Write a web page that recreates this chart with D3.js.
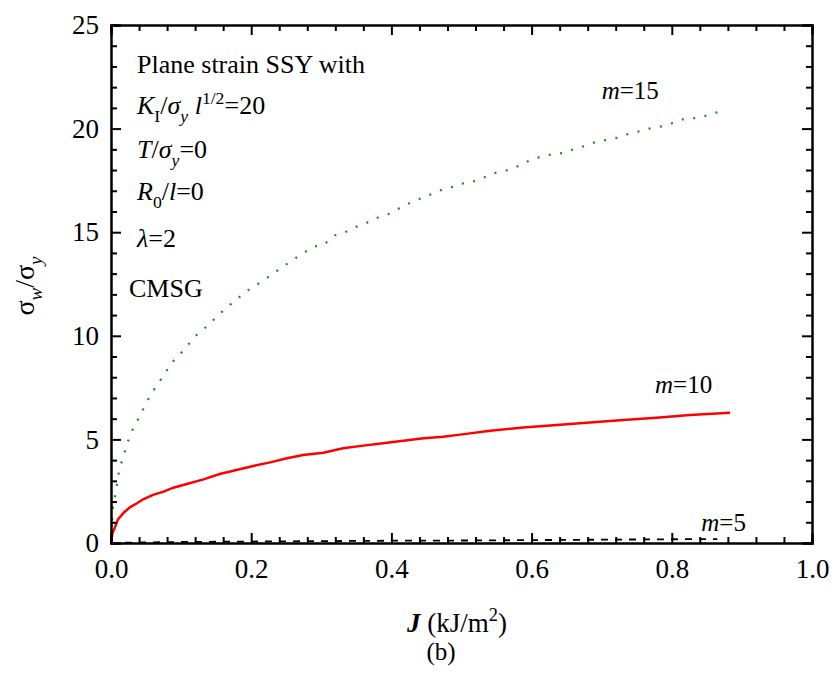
<!DOCTYPE html>
<html>
<head>
<meta charset="utf-8">
<script src="https://cdn.jsdelivr.net/npm/d3@7"></script>
<style>
    body { margin: 0; background: #fff; }
    text { font-family: "Liberation Serif", "Times New Roman", serif; fill: #000; }
</style>
</head>
<body>
<div class="vis-chart"></div>
<script>
// J (kJ/m^2) and sigma_w/sigma_y
const j15 = [0, 0.001, 0.002, 0.003, 0.006, 0.009, 0.011, 0.015, 0.020, 0.025, 0.031, 0.039, 0.047, 0.055, 0.065, 0.076, 0.085, 0.096, 0.109, 0.123, 0.139, 0.153, 0.167, 0.182, 0.196, 0.211, 0.227, 0.248, 0.270, 0.289, 0.304, 0.318, 0.334, 0.349, 0.365, 0.380, 0.396, 0.411, 0.427, 0.442, 0.457, 0.473, 0.489, 0.505, 0.520, 0.536, 0.551, 0.567, 0.582, 0.598, 0.613, 0.629, 0.644, 0.660, 0.676, 0.691, 0.707, 0.723, 0.738, 0.754, 0.769, 0.785, 0.800, 0.816, 0.832, 0.847, 0.863, 0.878];
const s15 = [0, 0.79, 1.35, 1.83, 2.3, 2.9, 3.4, 3.9, 4.45, 4.97, 5.49, 6.0, 6.53, 7.06, 7.6, 8.12, 8.64, 9.02, 9.52, 10.07, 10.52, 11.0, 11.42, 11.84, 12.21, 12.53, 12.9, 13.4, 13.9, 14.3, 14.4, 14.83, 15.0, 15.25, 15.46, 15.7, 15.88, 16.15, 16.42, 16.63, 16.83, 17.07, 17.2, 17.39, 17.47, 17.7, 17.9, 18.0, 18.21, 18.48, 18.64, 18.76, 18.82, 19.0, 19.16, 19.35, 19.45, 19.56, 19.74, 19.87, 20.01, 20.11, 20.26, 20.45, 20.5, 20.61, 20.77, 20.85];

const j10 = [0, 0.002, 0.006, 0.010, 0.018, 0.027, 0.037, 0.046, 0.060, 0.075, 0.089, 0.108, 0.132, 0.155, 0.179, 0.203, 0.227, 0.251, 0.274, 0.303, 0.331, 0.360, 0.388, 0.417, 0.446, 0.474, 0.498, 0.541, 0.588, 0.636, 0.683, 0.731, 0.778, 0.826, 0.883];
const s10 = [0, 0.47, 0.79, 1.14, 1.46, 1.72, 1.92, 2.11, 2.32, 2.48, 2.67, 2.85, 3.07, 3.33, 3.52, 3.72, 3.89, 4.09, 4.25, 4.36, 4.57, 4.70, 4.81, 4.94, 5.05, 5.13, 5.23, 5.42, 5.58, 5.69, 5.82, 5.94, 6.05, 6.18, 6.29];

const j5 = [0, 0.05, 0.1, 0.2, 0.3, 0.4, 0.5, 0.6, 0.7, 0.8, 0.865];
const s5 = [0, 0.03, 0.05, 0.07, 0.09, 0.11, 0.12, 0.14, 0.16, 0.18, 0.19];

const xTicks = [0, 0.2, 0.4, 0.6, 0.8, 1.0];
const yTicks = [0, 5, 10, 15, 20, 25];

const margin = { top: 25, right: 22, bottom: 141, left: 111 };
const W = 834, H = 684;
const width = W - margin.left - margin.right;
const height = H - margin.top - margin.bottom;
const fs = 27;

let svg = d3.select('.vis-chart')
    .append("svg")
    .attr("width", W)
    .attr("height", H)
    .append("g")
    .attr("transform", "translate(" + margin.left + "," + margin.top + ")");

let x = d3.scaleLinear().domain([0, 1]).range([0, width]);
let y = d3.scaleLinear().domain([0, 25]).range([height, 0]);

const xMinor = d3.range(0, 1.0001, 0.04).filter(v => !xTicks.some(t => Math.abs(t - v) < 1e-6));
const yMinor = d3.range(0, 25.001, 1).filter(v => v % 5 !== 0);

// text with sub/superscripts: parts = [text, italic, pos, bold] pos 1 = sub, -1 = sup
function rich(sel, px, py, parts, size) {
    const t = sel.append("text").attr("x", px).attr("y", py).style("font-size", size + "px");
    let shift = 0;
    parts.forEach(p => {
        const pos = p[2] || 0;
        const target = pos === 1 ? size * 0.3 : pos === -1 ? -size * 0.4 : 0;
        t.append("tspan")
            .attr("dy", target - shift)
            .style("font-style", p[1] ? "italic" : "normal")
            .style("font-weight", p[3] ? "bold" : "normal")
            .style("font-size", (pos ? size * 0.68 : size) + "px")
            .text(p[0]);
        shift = target;
    });
    return t;
}

// Curves
const line = d3.line().x(d => x(d[0])).y(d => y(d[1]));

svg.append("path")
    .datum(j5.map((v, i) => [v, s5[i]]))
    .attr("d", line)
    .attr("fill", "none")
    .attr("stroke", "#000")
    .attr("stroke-width", 1.8)
    .attr("stroke-dasharray", "7,7");

svg.append("path")
    .datum(j10.map((v, i) => [v, s10[i]]))
    .attr("d", line)
    .attr("fill", "none")
    .attr("stroke", "#ff0000")
    .attr("stroke-width", 2.5);

svg.append("path")
    .datum(j15.map((v, i) => [v, s15[i]]))
    .attr("d", line)
    .attr("fill", "none")
    .attr("stroke", "#1a8c1a")
    .attr("stroke-width", 2.2)
    .attr("stroke-dasharray", "2,9.5");

// Axes (ticks inward, mirrored)
function styleAxis(g) {
    g.attr("font-family", null);
    g.select(".domain").attr("stroke-width", 2);
    g.selectAll(".tick line").attr("stroke-width", 2);
    g.selectAll("text").style("font-size", fs + "px").attr("fill", "#000");
}

svg.append("g")
    .attr("transform", "translate(0," + height + ")")
    .call(d3.axisBottom(x).tickValues(xTicks).tickFormat(d3.format(".1f")).tickSize(-10).tickPadding(16))
    .call(styleAxis);
svg.append("g")
    .attr("transform", "translate(0," + height + ")")
    .call(d3.axisBottom(x).tickValues(xMinor).tickFormat("").tickSize(-6))
    .call(styleAxis);
svg.append("g")
    .call(d3.axisTop(x).tickValues(xTicks).tickFormat("").tickSize(-10))
    .call(styleAxis);
svg.append("g")
    .call(d3.axisTop(x).tickValues(xMinor).tickFormat("").tickSize(-6))
    .call(styleAxis);

svg.append("g")
    .call(d3.axisLeft(y).tickValues(yTicks).tickFormat(d3.format("d")).tickSize(-10).tickPadding(12))
    .call(styleAxis);
svg.append("g")
    .call(d3.axisLeft(y).tickValues(yMinor).tickFormat("").tickSize(-6))
    .call(styleAxis);
svg.append("g")
    .attr("transform", "translate(" + width + ",0)")
    .call(d3.axisRight(y).tickValues(yTicks).tickFormat("").tickSize(-10))
    .call(styleAxis);
svg.append("g")
    .attr("transform", "translate(" + width + ",0)")
    .call(d3.axisRight(y).tickValues(yMinor).tickFormat("").tickSize(-6))
    .call(styleAxis);

// Curve labels
rich(svg, x(0.700), y(21.43), [["m", true], ["=15"]], 25);
rich(svg, x(0.776), y(7.24), [["m", true], ["=10"]], 25);
rich(svg, x(0.842), y(0.58), [["m", true], ["=5"]], 25);

// Annotation block
const ax = 26, afs = 26;
rich(svg, ax, 48, [["Plane strain SSY with"]], afs);
rich(svg, ax, 89, [["K", true], ["I", false, 1], ["/"], ["σ", true], ["y", true, 1], [" "], ["l", true], ["1/2", false, -1], ["=20"]], afs);
rich(svg, ax, 133, [["T", true], ["/"], ["σ", true], ["y", true, 1], ["=0"]], afs);
rich(svg, ax, 175, [["R", true], ["0", false, 1], ["/"], ["l", true], ["=0"]], afs);
rich(svg, ax, 222, [["λ", true], ["=2"]], afs);
rich(svg, ax - 8, 272, [["CMSG"]], afs);

// Axis titles
rich(svg, 296, 607, [["J", true, 0, true], [" (kJ/m"], ["2", false, -1], [")"]], 27);
svg.append("text")
    .attr("x", 330)
    .attr("y", 635)
    .attr("text-anchor", "middle")
    .style("font-size", "25px")
    .text("(b)");

const yt = rich(svg, 0, 0, [["σ"], ["w", true, 1], ["/"], ["σ"], ["y", true, 1]], 28);
yt.attr("text-anchor", "middle")
    .attr("transform", "translate(-77," + (height / 2 + 2) + ") rotate(-90)");
</script>
</body>
</html>
